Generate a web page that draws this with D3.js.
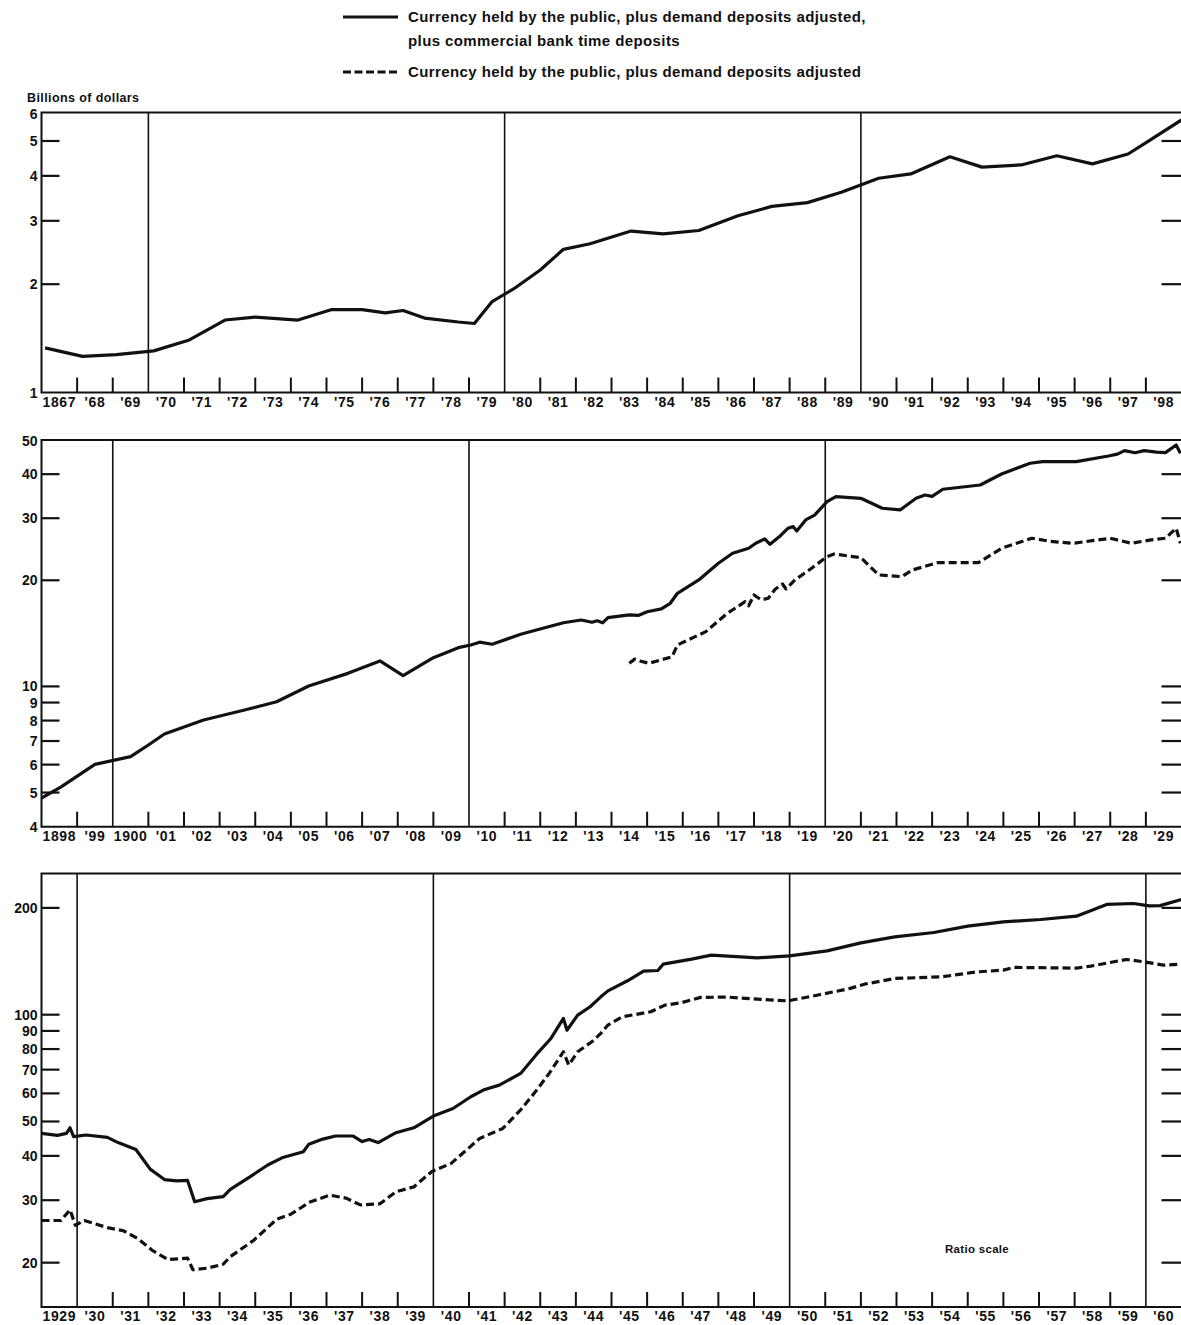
<!DOCTYPE html>
<html><head><meta charset="utf-8">
<script src="https://cdn.jsdelivr.net/npm/d3@7"></script>
<style>
body{margin:0;background:#fff;}
text{font-family:"Liberation Sans",Arial,sans-serif;fill:#111;}
</style>
</head><body>
<svg id="chart" width="1181" height="1325"></svg>
<script>
// ---------- DATA ----------
// Panel 1 (1867-1898), billions of dollars
const total1867 = [[1867.1,1.33],[1868.15,1.26],[1869.1,1.275],[1870.15,1.305],[1871.15,1.40],[1872.15,1.59],[1873.0,1.62],[1874.2,1.59],[1875.15,1.70],[1876.0,1.70],[1876.65,1.665],[1877.15,1.69],[1877.75,1.61],[1878.7,1.57],[1879.15,1.555],[1879.65,1.79],[1880.25,1.94],[1881.0,2.19],[1881.65,2.50],[1882.4,2.59],[1883.55,2.81],[1884.45,2.76],[1885.45,2.82],[1886.55,3.10],[1887.5,3.29],[1888.5,3.37],[1889.45,3.60],[1890.5,3.94],[1891.4,4.05],[1892.5,4.52],[1893.4,4.23],[1894.5,4.29],[1895.5,4.55],[1896.5,4.32],[1897.5,4.60],[1898.05,4.98],[1899.0,5.72]];

// Panel 2 (1898-1929)
const total1898 = [[1898.0,4.82],[1898.55,5.19],[1899.5,6.01],[1900.05,6.18],[1900.5,6.32],[1901.0,6.82],[1901.45,7.33],[1902.55,8.03],[1903.7,8.57],[1904.6,9.05],[1905.5,10.03],[1906.6,10.89],[1907.5,11.81],[1908.15,10.73],[1909.0,12.06],[1909.7,12.88],[1910.05,13.11],[1910.3,13.35],[1910.65,13.17],[1911.45,14.06],[1912.65,15.16],[1913.15,15.43],[1913.45,15.2],[1913.6,15.35],[1913.75,15.15],[1913.9,15.67],[1914.5,15.95],[1914.75,15.9],[1915.0,16.29],[1915.4,16.6],[1915.65,17.21],[1915.85,18.37],[1916.45,20.04],[1917.0,22.35],[1917.4,23.86],[1917.85,24.65],[1918.05,25.47],[1918.3,26.2],[1918.45,25.3],[1918.75,26.8],[1918.95,28.09],[1919.1,28.4],[1919.2,27.6],[1919.45,29.66],[1919.7,30.6],[1920.05,33.42],[1920.3,34.53],[1921.0,34.17],[1921.6,32.01],[1922.1,31.66],[1922.55,34.17],[1922.8,34.9],[1923.0,34.6],[1923.3,36.24],[1924.35,37.27],[1924.95,40.05],[1925.75,42.95],[1926.1,43.4],[1927.05,43.4],[1927.95,45.05],[1928.2,45.6],[1928.4,46.64],[1928.7,46.0],[1928.95,46.64],[1929.3,46.2],[1929.55,46.03],[1929.85,48.4],[1929.97,45.85]];
const demand1914 = [[1914.5,11.63],[1914.65,11.95],[1914.8,11.81],[1915.05,11.63],[1915.7,12.14],[1915.85,13.11],[1916.65,14.3],[1917.25,16.12],[1917.75,17.39],[1917.85,16.94],[1918.0,18.17],[1918.2,17.6],[1918.4,17.78],[1918.6,18.9],[1918.8,19.52],[1918.9,18.9],[1919.15,20.04],[1919.55,21.4],[1920.05,23.33],[1920.25,23.75],[1921.0,23.18],[1921.5,20.71],[1922.15,20.48],[1922.45,21.4],[1923.15,22.44],[1924.3,22.44],[1924.95,24.65],[1925.8,26.32],[1926.3,25.8],[1926.95,25.47],[1927.5,25.9],[1928.0,26.32],[1928.6,25.47],[1929.1,26.0],[1929.55,26.32],[1929.85,28.09],[1929.97,25.47]];

// Panel 3 (1929-1960)
const total1929 = [[1929.0,46.3],[1929.45,45.7],[1929.7,46.3],[1929.8,48.0],[1929.9,45.3],[1930.25,45.8],[1930.85,45.1],[1931.15,43.6],[1931.65,41.7],[1932.05,36.7],[1932.45,34.3],[1932.8,34.0],[1933.1,34.1],[1933.3,29.7],[1933.65,30.3],[1934.1,30.7],[1934.3,32.2],[1934.85,34.9],[1935.35,37.7],[1935.75,39.5],[1936.35,41.1],[1936.5,43.1],[1936.9,44.6],[1937.25,45.5],[1937.75,45.5],[1938.0,43.9],[1938.2,44.5],[1938.45,43.6],[1938.95,46.5],[1939.45,48.0],[1940.0,51.8],[1940.55,54.4],[1941.05,58.7],[1941.4,61.3],[1941.85,63.3],[1942.45,68.3],[1942.9,77.4],[1943.3,85.7],[1943.65,97.6],[1943.75,90.4],[1944.05,99.7],[1944.4,105.3],[1944.7,112.3],[1944.9,116.7],[1945.45,124.6],[1945.9,132.7],[1946.3,133.2],[1946.45,138.8],[1947.25,143.4],[1947.8,147.2],[1949.1,144.6],[1950.0,146.5],[1951.05,151.3],[1952.0,159.4],[1952.95,165.7],[1954.05,170.5],[1955.0,177.7],[1956.0,182.7],[1957.05,185.5],[1958.05,189.5],[1958.9,204.5],[1959.65,205.8],[1960.1,202.6],[1960.4,203],[1961.0,211.1]];
const demand1929 = [[1929.0,26.3],[1929.55,26.3],[1929.8,28.2],[1929.95,25.5],[1930.2,26.3],[1930.85,25.1],[1931.3,24.6],[1931.7,23.4],[1932.1,21.7],[1932.55,20.4],[1933.1,20.6],[1933.25,19.1],[1933.65,19.3],[1934.1,19.8],[1934.3,20.8],[1934.95,23.1],[1935.6,26.5],[1936.0,27.4],[1936.55,29.7],[1937.1,31.0],[1937.55,30.4],[1937.95,29.1],[1938.5,29.3],[1938.95,31.7],[1939.45,32.7],[1939.95,36.1],[1940.5,38.1],[1941.3,44.8],[1941.95,47.8],[1942.45,53.9],[1942.9,61.3],[1943.25,68.3],[1943.65,78.6],[1943.8,72.1],[1944.05,78.6],[1944.45,83.9],[1944.7,88.6],[1944.9,93.5],[1945.3,98.6],[1946.1,101.9],[1946.5,106.4],[1946.95,108],[1947.5,111.9],[1948.25,112.1],[1949.2,110.4],[1949.95,109.4],[1950.8,113.6],[1951.7,118.6],[1952.1,121.9],[1952.95,126.5],[1954.25,127.8],[1955.25,132],[1956.0,133.5],[1956.3,135.9],[1958.05,135.3],[1958.45,137],[1959.45,143.1],[1959.95,140.9],[1960.5,137.9],[1961.0,138.8]];

// Tick values / labels
const yTicks1 = [1,2,3,4,5,6];
const yTicks2 = [4,5,6,7,8,9,10,20,30,40,50];
const yTicks3 = [20,30,40,50,60,70,80,90,100,200];
const yearLabels1 = ["1867","'68","'69","'70","'71","'72","'73","'74","'75","'76","'77","'78","'79","'80","'81","'82","'83","'84","'85","'86","'87","'88","'89","'90","'91","'92","'93","'94","'95","'96","'97","'98"];
const yearLabels2 = ["1898","'99","1900","'01","'02","'03","'04","'05","'06","'07","'08","'09","'10","'11","'12","'13","'14","'15","'16","'17","'18","'19","'20","'21","'22","'23","'24","'25","'26","'27","'28","'29"];
const yearLabels3 = ["1929","'30","'31","'32","'33","'34","'35","'36","'37","'38","'39","'40","'41","'42","'43","'44","'45","'46","'47","'48","'49","'50","'51","'52","'53","'54","'55","'56","'57","'58","'59","'60"];
const decades1 = [1870,1880,1890];
const decades2 = [1900,1910,1920];
const decades3 = [1930,1940,1950,1960];
const legendLabels = ["Currency held by the public, plus demand deposits adjusted,","plus commercial bank time deposits","Currency held by the public, plus demand deposits adjusted"];

// ---------- DRAW ----------
const svg = d3.select("#chart");
const X0 = 41.5, X1 = 1181.5;

const panels = [
  {start:1867, yDomain:[1,6], yRange:[392.5,112.5], ticks:yTicks1, labels:yearLabels1, decades:decades1, series:[{d:total1867,dash:null}]},
  {start:1898, yDomain:[4,50], yRange:[826.7,440], ticks:yTicks2, labels:yearLabels2, decades:decades2, series:[{d:total1898,dash:null},{d:demand1914,dash:"8,4"}]},
  {start:1929, yDomain:[15,250], yRange:[1307,873.5], ticks:yTicks3, labels:yearLabels3, decades:decades3, series:[{d:total1929,dash:null},{d:demand1929,dash:"8,4"}]}
];

panels.forEach((p,pi)=>{
  const x = d3.scaleLinear().domain([p.start, p.start+32]).range([X0,X1]);
  const y = d3.scaleLog().domain(p.yDomain).range(p.yRange);
  const g = svg.append("g");
  const top = p.yRange[1], bot = p.yRange[0];
  const cid = "clip"+pi;
  svg.append("clipPath").attr("id",cid).append("rect")
    .attr("x",X0).attr("y",top-6).attr("width",X1-X0).attr("height",bot-top+12);

  // frame
  g.append("path").attr("d",`M${X1},${top}H${X0}V${bot}H${X1}`)
    .attr("fill","none").attr("stroke","#111").attr("stroke-width",2);

  // decade lines
  g.selectAll(".dec").data(p.decades).enter().append("line")
    .attr("x1",d=>x(d)).attr("x2",d=>x(d)).attr("y1",top).attr("y2",bot)
    .attr("stroke","#111").attr("stroke-width",1.6);

  // year ticks
  const yrs = d3.range(p.start+1, p.start+32).filter(v=>p.decades.indexOf(v)<0);
  g.selectAll(".yt").data(yrs).enter().append("line")
    .attr("x1",d=>x(d)).attr("x2",d=>x(d)).attr("y1",bot).attr("y2",bot-15)
    .attr("stroke","#111").attr("stroke-width",2);

  // year labels
  g.selectAll(".yl").data(p.labels).enter().append("text")
    .attr("x",(d,i)=>x(p.start+i+0.5)).attr("y",bot+14)
    .attr("text-anchor","middle").attr("font-size",14).attr("font-weight","bold")
    .attr("letter-spacing",0.6)
    .text(d=>d);

  // y ticks (inner)
  const inner = p.ticks.filter(v=>v>p.yDomain[0] && v<p.yDomain[1] && Math.abs(y(v)-top)>2 && Math.abs(y(v)-bot)>2);
  g.selectAll(".lt").data(inner).enter().append("line")
    .attr("x1",X0).attr("x2",X0+18).attr("y1",d=>y(d)).attr("y2",d=>y(d))
    .attr("stroke","#111").attr("stroke-width",2.2);
  g.selectAll(".rt").data(inner).enter().append("line")
    .attr("x1",X1-20).attr("x2",X1).attr("y1",d=>y(d)).attr("y2",d=>y(d))
    .attr("stroke","#111").attr("stroke-width",2.2);
  g.selectAll(".tl").data(p.ticks).enter().append("text")
    .attr("x",X0-4).attr("y",d=>y(d)+(Math.abs(y(d)-top)<2 ? 6 : 5))
    .attr("text-anchor","end").attr("font-size",14).attr("font-weight","bold")
    .text(d=>d);

  // series
  const line = d3.line().x(d=>x(d[0])).y(d=>y(d[1]));
  p.series.forEach(s=>{
    svg.append("path").attr("d",line(s.d)).attr("clip-path",`url(#${cid})`)
      .attr("fill","none").attr("stroke","#111").attr("stroke-width",3.2)
      .attr("stroke-linejoin","round")
      .attr("stroke-dasharray",s.dash);
  });
});

// axis title
svg.append("text").attr("x",27).attr("y",102).attr("font-size",12.5).attr("font-weight","bold")
  .attr("letter-spacing",0.4).text("Billions of dollars");

// ratio scale note
svg.append("text").attr("x",945).attr("y",1253).attr("font-size",11.5).attr("font-weight","bold")
  .attr("letter-spacing",0.3).text("Ratio scale");

// legend
const lg = svg.append("g");
lg.append("line").attr("x1",343).attr("x2",398).attr("y1",17).attr("y2",17)
  .attr("stroke","#111").attr("stroke-width",3);
lg.append("line").attr("x1",343).attr("x2",398).attr("y1",72).attr("y2",72)
  .attr("stroke","#111").attr("stroke-width",3).attr("stroke-dasharray","8,3.5");
const lt = [[22,legendLabels[0]],[46,legendLabels[1]],[77,legendLabels[2]]];
lg.selectAll(".lgt").data(lt).enter().append("text")
  .attr("x",408).attr("y",d=>d[0]).attr("font-size",15).attr("font-weight","bold")
  .attr("letter-spacing",0.4).text(d=>d[1]);
</script>
</body></html>
